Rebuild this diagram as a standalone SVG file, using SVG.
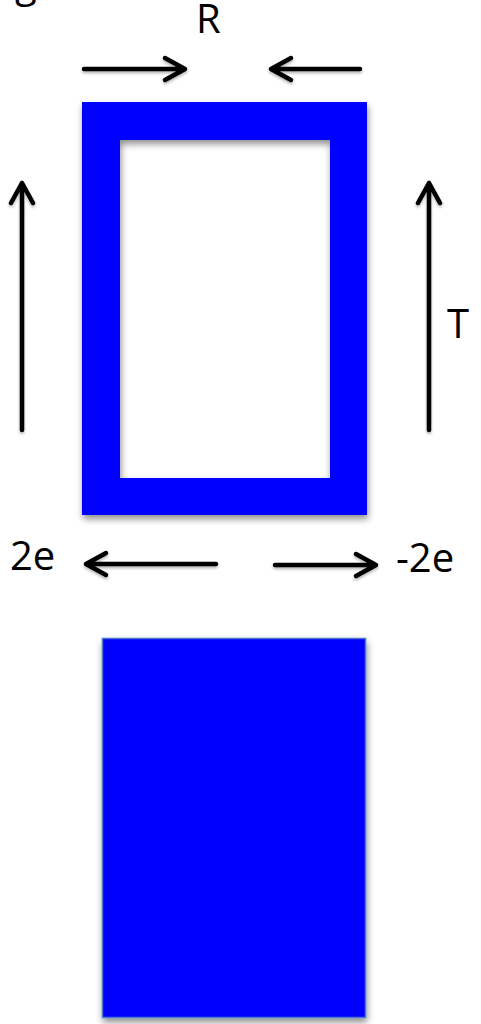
<svg xmlns="http://www.w3.org/2000/svg" width="481" height="1024" viewBox="0 0 481 1024">
<style>
  .lbl { font-family: "Open Sans", "Liberation Sans", sans-serif; font-size: 40px; fill: #000; }
  .arr { stroke: #000; stroke-width: 4.5; fill: none; stroke-linecap: round; stroke-linejoin: round; }
  .blue { fill: #0000ff; }
</style>
<defs>
  <filter id="sh" x="-10%" y="-10%" width="120%" height="120%">
    <feGaussianBlur in="SourceAlpha" stdDeviation="3.5"/>
    <feOffset dx="1" dy="4" result="b"/>
    <feComponentTransfer><feFuncA type="linear" slope="0.45"/></feComponentTransfer>
    <feMerge><feMergeNode/><feMergeNode in="SourceGraphic"/></feMerge>
  </filter>
  <filter id="ash" x="-20%" y="-50%" width="140%" height="200%">
    <feGaussianBlur in="SourceAlpha" stdDeviation="1.5"/>
    <feOffset dx="0" dy="2"/>
    <feComponentTransfer><feFuncA type="linear" slope="0.3"/></feComponentTransfer>
    <feMerge><feMergeNode/><feMergeNode in="SourceGraphic"/></feMerge>
  </filter>
</defs>
<rect width="481" height="1024" fill="#fff"/>
<text class="lbl" x="15" y="-3">g</text>
<g id="frame">
  <path class="blue" fill-rule="evenodd" filter="url(#sh)" d="M82,102 H367 V515 H82 Z M120,140 V478 H330 V140 Z"/>
</g>
<g id="block">
  <rect x="102.5" y="638.5" width="263" height="379" fill="#0000ff" stroke="#4a78c8" stroke-width="1.5" filter="url(#sh)"/>
</g>
<g id="labels">
  <text class="lbl" x="196" y="33">R</text>
  <text class="lbl" x="447" y="338">T</text>
  <text class="lbl" x="10" y="570">2e</text>
  <text class="lbl" x="396" y="572">-2e</text>
</g>
<g id="connectors" filter="url(#ash)">
  <path class="arr" d="M84,69 H185 M165,58 L185,69 L165,80"/>
  <path class="arr" d="M360,69 H271 M291,58 L271,69 L291,80"/>
  <path class="arr" d="M22,430 V183 M11,203 L22,183 L33,203"/>
  <path class="arr" d="M429,430 V183 M418,203 L429,183 L440,203"/>
  <path class="arr" d="M216,564 H86 M106,553 L86,564 L106,575"/>
  <path class="arr" d="M275,565 H376 M356,554 L376,565 L356,576"/>
</g>
</svg>
